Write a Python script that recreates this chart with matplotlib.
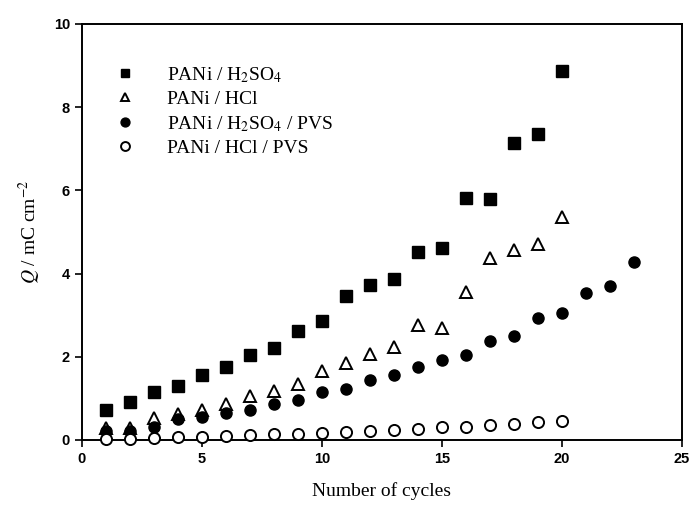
import matplotlib
matplotlib.use("Agg")
import matplotlib.pyplot as plt

# Charge density vs. number of voltammetric cycles
cycles_20 = list(range(1, 21))
cycles_23 = list(range(1, 24))

q_h2so4 = [0.72, 0.92, 1.15, 1.30, 1.57, 1.75, 2.03, 2.22, 2.63, 2.85,
           3.45, 3.72, 3.86, 4.52, 4.61, 5.82, 5.78, 7.14, 7.36, 8.86]
q_hcl = [0.28, 0.28, 0.52, 0.62, 0.72, 0.87, 1.05, 1.17, 1.35, 1.65,
         1.85, 2.07, 2.24, 2.76, 2.70, 3.56, 4.37, 4.57, 4.70, 5.37]
q_h2so4_pvs = [0.22, 0.22, 0.30, 0.50, 0.55, 0.65, 0.72, 0.87, 0.97, 1.15,
               1.23, 1.45, 1.56, 1.75, 1.92, 2.04, 2.38, 2.50, 2.93, 3.05,
               3.54, 3.69, 4.27]
q_hcl_pvs = [0.02, 0.03, 0.05, 0.07, 0.08, 0.10, 0.12, 0.14, 0.15, 0.17,
             0.20, 0.22, 0.25, 0.27, 0.30, 0.32, 0.35, 0.38, 0.43, 0.45]

labels = ["PANi / H$_2$SO$_4$", "PANi / HCl",
          "PANi / H$_2$SO$_4$ / PVS", "PANi / HCl / PVS"]

xticks = [0, 5, 10, 15, 20, 25]
yticks = [0, 2, 4, 6, 8, 10]

plt.rcParams["mathtext.fontset"] = "stix"
serif = "Liberation Serif"
sans = "Liberation Sans"

fig = plt.figure(figsize=(6.93, 5.08), dpi=100)
ax = fig.add_axes([0.118, 0.134, 0.866, 0.819])

ms = 8
ax.plot(cycles_20, q_h2so4, "s", ms=ms, color="black", label=labels[0],
        clip_on=False, zorder=3)
ax.plot(cycles_20, q_hcl, "^", ms=ms, mfc="white", mec="black", mew=1.4,
        label=labels[1], clip_on=False, zorder=3)
ax.plot(cycles_23, q_h2so4_pvs, "o", ms=ms, color="black", label=labels[2],
        clip_on=False, zorder=3)
ax.plot(cycles_20, q_hcl_pvs, "o", ms=ms, mfc="white", mec="black", mew=1.4,
        label=labels[3], clip_on=False, zorder=4)

ax.set_xlim(0, 25)
ax.set_ylim(0, 10)
ax.set_xticks(xticks)
ax.set_yticks(yticks)
ax.tick_params(direction="out", length=5, width=1.2, top=False, right=False)
for lbl in ax.get_xticklabels() + ax.get_yticklabels():
    lbl.set_fontfamily(sans)
    lbl.set_fontweight("bold")
    lbl.set_fontsize(10.5)
for s in ax.spines.values():
    s.set_linewidth(1.4)

ax.set_xlabel("Number of cycles", fontfamily=serif, fontsize=14, labelpad=12)
ax.set_ylabel("$Q$ / mC cm$^{-2}$", fontfamily=serif, fontsize=14, labelpad=8)

leg = ax.legend(loc="upper left", bbox_to_anchor=(0.027, 0.92), frameon=False,
                prop={"family": serif, "size": 14}, handletextpad=1.15,
                labelspacing=0.3, borderaxespad=0, markerscale=0.8)

fig.savefig("out.png", dpi=100)
